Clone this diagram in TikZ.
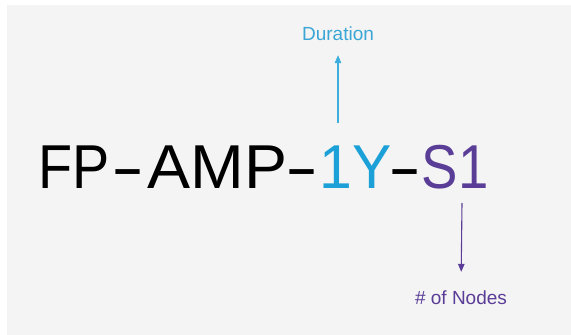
\documentclass[tikz,border=0pt]{standalone}
\usepackage{fontspec}
\setmainfont{Liberation Sans}
\usetikzlibrary{arrows.meta}
\definecolor{bg}{HTML}{F4F4F4}
\definecolor{ciscoblue}{HTML}{1BA0D7}
\definecolor{durblue}{HTML}{3AA6D6}
\definecolor{purp}{HTML}{5A3D97}
\newcommand{\widehy}{\scalebox{1.6}[1]{-}}
\newcommand{\sx}[2]{\scalebox{#1}[1]{#2}}
\tikzset{
  big/.style={inner sep=0pt, anchor=base, font=\fontsize{62}{68}\selectfont},
  lbl/.style={inner sep=0pt, font=\fontsize{19}{21}\selectfont},
  arr/.style={line width=1.1pt, -{Triangle[length=8pt,width=6.5pt]}}
}
\begin{document}
\begin{tikzpicture}[x=1pt,y=-1pt]
\useasboundingbox (0,0) rectangle (571,335);
\fill[white] (0,0) rectangle (571,335);
\fill[bg] (7,5) rectangle (571,335);
\node[big] (fp) at (74.5,188) {\sx{0.9}{FP}};
\node[big] (h1) at (128.5,188) {\widehy};
\node[big] (amp) at (217.5,188) {\sx{1.04}{AMP}};
\node[big] (h2) at (302,188) {\widehy};
\node[big, text=ciscoblue] (dy) at (356,188) {\sx{0.95}{1Y}};
\node[big] (h3) at (405,188) {\widehy};
\node[big, text=purp] (s) at (455,188) {\sx{0.88}{S1}};
\node[lbl, text=durblue] (dur) at (338,34) {Duration};
\node[lbl, text=purp] (nodes) at (461,298) {\# of Nodes};
\coordinate (a1) at (338,123);
\coordinate (a2) at (462,203);
\draw[arr, ciscoblue!85!white, shorten >=14pt] (a1) -- (dur.south);
\draw[arr, purp, shorten >=19pt] (a2) -- (nodes.north);
\end{tikzpicture}
\end{document}
